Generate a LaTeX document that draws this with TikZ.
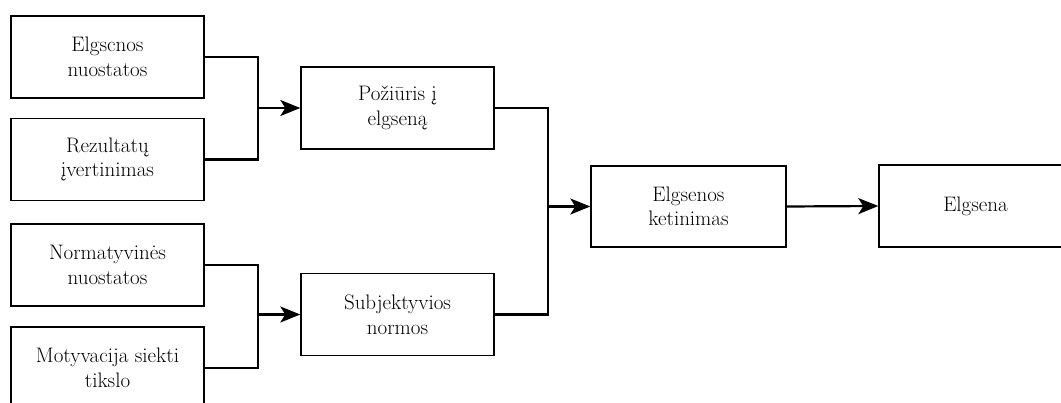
\documentclass[tikz,border=0pt]{standalone}
\usepackage{fontspec}
\usetikzlibrary{arrows.meta}
\tikzset{
    every node/.style={rectangle, draw, line width=1.4pt, minimum width=193pt,
    	minimum height=82pt, align=center, font=\fontsize{21}{24.5}\selectfont}
}
\tikzset{
	link/.style={line width=2.2pt},
	arrowlink/.style={line width=2.2pt, -{Stealth[length=20pt,width=16pt,inset=5pt]}}
}

\begin{document}
\begin{tikzpicture}[x=1pt, y=-1pt]
  \useasboundingbox (0,0) rectangle (1061,403);
  \node (nuost) at (107.5,57) {Elgscnos\\nuostatos};
  \node (rez) at (107.5,159.5) {Rezultatų\\įvertinimas};
  \node (norm) at (107.5,265) {Normatyvinės\\nuostatos};
  \node (motyv) at (107.5,368) {Motyvacija siekti\\tikslo};
  \node (poz) at (397.5,108) {Požiūris į\\elgseną};
  \node (subj) at (397.5,314.5) {Subjektyvios\\normos};
  \node (ketin) at (688.5,206.5) [minimum width=195pt, minimum height=81pt] {Elgsenos\\ketinimas};
  \node (elgs) at (975.5,206) {Elgsena};

  \coordinate (j1) at (258,108);
  \coordinate (j2) at (258,314.5);
  \coordinate (j3) at (548,206.5);

  \draw [link] (nuost.east) -| (j1) |- (rez.east);
  \draw [link] (norm.east) -| (j2) |- (motyv.east);
  \draw [link] (poz.east) -| (j3) |- (subj.east);
  \draw [arrowlink] (j1) -- (poz.west);
  \draw [arrowlink] (j2) -- (subj.west);
  \draw [arrowlink] (j3) -- (ketin.west);
  \draw [arrowlink] (ketin.east) -- (elgs.west);
\end{tikzpicture}
\end{document}
